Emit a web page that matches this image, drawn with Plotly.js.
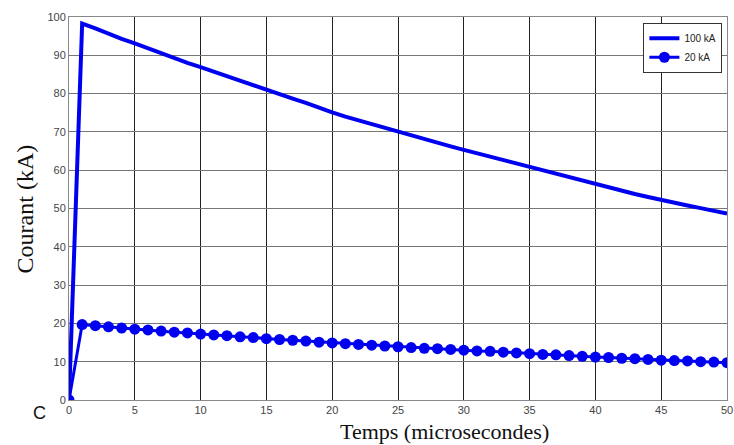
<!DOCTYPE html>
<html>
<head>
<meta charset="utf-8">
<script src="https://cdn.plot.ly/plotly-3.0.1.min.js"></script>
<style>html,body{margin:0;padding:0;background:#fff;}#chart{width:734px;height:445px;}</style>
</head>
<body>
<div id="chart"></div>
<script>
const timeUs = [0,1,2,3,4,5,6,7,8,9,10,11,12,13,14,15,16,17,18,19,20,21,22,23,24,25,26,27,28,29,30,31,32,33,34,35,36,37,38,39,40,41,42,43,44,45,46,47,48,49,50];
const current100kA = [0,98.3,97.0,95.6,94.3,93.1,91.8,90.5,89.3,88.0,86.9,85.7,84.5,83.3,82.1,80.9,79.8,78.7,77.6,76.3,75.1,74.0,73.0,72.0,71.0,70.0,69.0,68.1,67.1,66.2,65.3,64.4,63.5,62.6,61.7,60.8,59.9,59.0,58.1,57.2,56.3,55.5,54.7,53.8,53.0,52.2,51.5,50.8,50.1,49.4,48.7];
const current20kA = [0,19.7,19.4,19.1,18.8,18.5,18.3,18.0,17.7,17.5,17.2,17.0,16.8,16.5,16.3,16.0,15.8,15.6,15.4,15.1,14.9,14.7,14.5,14.3,14.1,13.9,13.7,13.5,13.4,13.2,13.0,12.8,12.7,12.5,12.3,12.1,11.9,11.8,11.6,11.4,11.2,11.1,10.9,10.8,10.6,10.4,10.3,10.2,10.0,9.9,9.75];
const seriesNames = ["100 kA", "20 kA"];
const xTicks = [0,5,10,15,20,25,30,35,40,45,50];
const yTicks = [0,10,20,30,40,50,60,70,80,90,100];
const xTitle = 'Temps (microsecondes)';
const yTitle = 'Courant (kA)';

const traces = [
  {x: timeUs, y: current100kA, name: seriesNames[0], type: 'scatter', mode: 'lines',
   line: {color: '#0000f0', width: 4}},
  {x: timeUs, y: current20kA, name: seriesNames[1], type: 'scatter', mode: 'lines+markers',
   line: {color: '#0000f0', width: 3}, marker: {color: '#0000f0', size: 11}}
];

const layout = {
  width: 734, height: 445,
  margin: {l: 69, r: 7, t: 17, b: 45},
  paper_bgcolor: '#fff', plot_bgcolor: '#fff',
  showlegend: true,
  legend: {x: 0.993, y: 0.985, xanchor: 'right', yanchor: 'top', bgcolor: '#fff',
    bordercolor: '#333', borderwidth: 1, font: {family: 'Liberation Sans, Arial', size: 10, color: '#222'},
    itemwidth: 30, tracegroupgap: 0},
  xaxis: {range: [0, 50], tickvals: xTicks, ticktext: xTicks.map(String), showgrid: true,
    gridcolor: '#222', gridwidth: 1, zeroline: false, showline: true, linecolor: '#888', mirror: true,
    ticks: '', tickfont: {family: 'Liberation Sans, Arial', size: 11, color: '#444'}},
  yaxis: {range: [0, 100], tickvals: yTicks, ticktext: yTicks.map(String), showgrid: true,
    gridcolor: '#777', gridwidth: 1, zeroline: false, showline: true, linecolor: '#888', mirror: true,
    ticks: '', ticklabelstandoff: 0, tickfont: {family: 'Liberation Sans, Arial', size: 11, color: '#444'}},
  annotations: [
    {text: xTitle, xref: 'paper', yref: 'paper', x: 0.571, y: -0.081, xanchor: 'center', yanchor: 'middle',
     showarrow: false, font: {family: 'Liberation Serif, Times New Roman', size: 22, color: '#111'}},
    {text: yTitle, xref: 'paper', yref: 'paper', x: -0.067, y: 0.50, xanchor: 'center', yanchor: 'middle',
     textangle: -90, showarrow: false, font: {family: 'Liberation Serif, Times New Roman', size: 24, color: '#111'}},
    {text: 'C', xref: 'paper', yref: 'paper', x: -0.045, y: -0.035, xanchor: 'center', yanchor: 'middle',
     showarrow: false, font: {family: 'Liberation Sans, Arial', size: 18, color: '#111'}}
  ]
};

Plotly.newPlot('chart', traces, layout, {displayModeBar: false, staticPlot: true});
</script>
</body>
</html>
